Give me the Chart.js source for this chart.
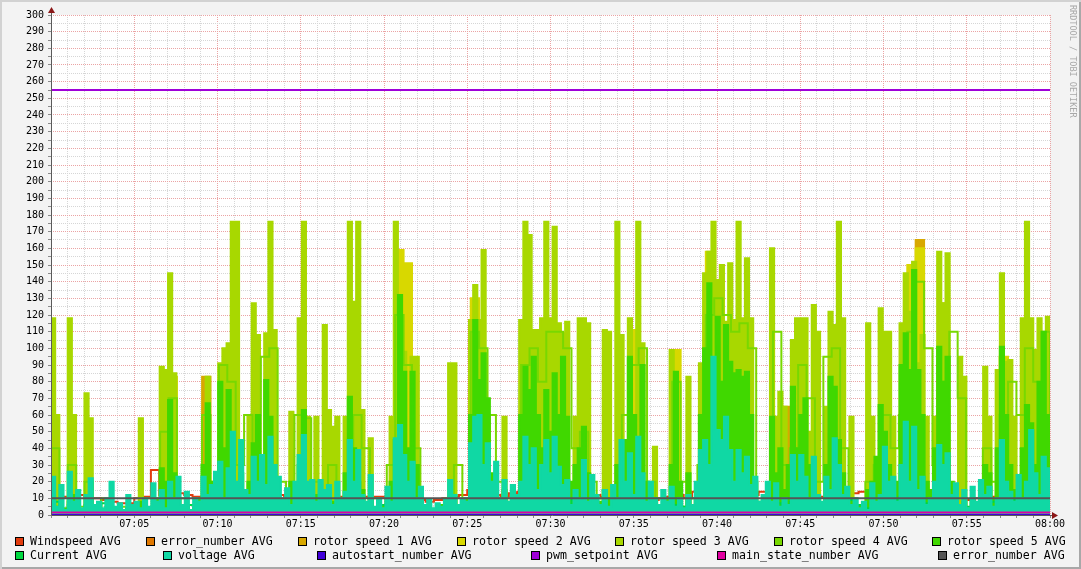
<!DOCTYPE html>
<html>
<head>
<meta charset="utf-8">
<script src="https://cdn.jsdelivr.net/npm/chart.js@4.4.1/dist/chart.umd.min.js"></script>
<style>
  html, body { margin: 0; padding: 0; background: #f3f3f3; }
  #wrap { position: relative; width: 1081px; height: 569px; overflow: hidden; background: #f3f3f3;
          box-shadow: inset 2px 2px 0 #d2d2d2, inset -2px -2px 0 #a8a8a8; }
  #c { position: absolute; left: 0; top: 0; }
  .lg { position: absolute; font: 11.6px 'DejaVu Sans Mono', monospace; color: #000; white-space: pre; line-height: 12px; }
  .bx { position: absolute; width: 7px; height: 7px; border: 1px solid #000; }
  #credit { position: absolute; left: 1068px; top: 5px; writing-mode: vertical-rl; font: 8.5px 'DejaVu Sans Mono', monospace; color: #a8a8a8; }
</style>
</head>
<body>
<div id="wrap">
  <canvas id="c" width="1081" height="569"></canvas>
  <div id="credit">RRDTOOL / TOBI OETIKER</div>
</div>
<script>
// waktu: 07:00 - 08:00, sumbu x dalam detik sejak 07:00
const timeLabels = ['07:05', '07:10', '07:15', '07:20', '07:25', '07:30', '07:35', '07:40', '07:45', '07:50', '07:55', '08:00'];

// data (resolusi ~15 detik)
const rotorSpeed3 = [
  118, 60, 0, 0, 118, 60, 0, 0, 73, 58, 0, 0, 0, 0, 0, 0, 0, 0, 0, 0,
  0, 58, 0, 0, 0, 0, 89, 87, 145, 85, 0, 0, 0, 0, 0, 0, 0, 83, 0, 0,
  91, 100, 103, 176, 176, 0, 0, 59, 127, 108, 0, 109, 176, 111, 0, 0, 0, 62, 0, 118,
  176, 59, 0, 59, 0, 114, 63, 53, 59, 0, 59, 176, 128, 176, 63, 0, 46, 0, 0, 0,
  0, 59, 176, 111, 98, 0, 95, 95, 0, 0, 0, 0, 0, 0, 0, 91, 91, 0, 0, 0,
  117, 138, 117, 159, 59, 0, 0, 0, 59, 0, 0, 0, 117, 176, 168, 111, 111, 118, 176, 118,
  173, 115, 109, 116, 0, 59, 118, 118, 115, 0, 0, 0, 111, 110, 0, 176, 108, 0, 118, 0,
  176, 103, 0, 0, 41, 0, 0, 0, 99, 81, 0, 0, 83, 0, 0, 91, 145, 158, 176, 141,
  150, 116, 151, 117, 176, 118, 154, 118, 0, 0, 0, 0, 160, 59, 74, 65, 0, 105, 118, 118,
  118, 50, 126, 110, 0, 65, 122, 114, 176, 118, 0, 59, 0, 0, 0, 115, 59, 0, 124, 110,
  110, 59, 0, 115, 145, 122, 152, 91, 108, 59, 0, 59, 158, 127, 157, 0, 0, 95, 83, 0,
  0, 0, 0, 89, 59, 0, 87, 145, 92, 93, 59, 0, 118, 176, 118, 99, 118, 85, 119, 60
];
const rotorSpeed5 = [
  10, 5, 0, 4, 8, 12, 3, 0, 6, 2, 0, 3, 0, 5, 2, 0, 3, 0, 4, 0,
  2, 8, 3, 0, 5, 10, 28, 20, 69, 25, 10, 3, 6, 0, 4, 10, 30, 67, 20, 8,
  80, 40, 75, 30, 12, 25, 10, 20, 43, 60, 30, 81, 59, 20, 8, 3, 10, 20, 5, 30,
  63, 15, 8, 12, 4, 10, 5, 8, 3, 10, 25, 71, 40, 20, 15, 5, 10, 3, 0, 5,
  10, 20, 45, 132, 86, 40, 86, 30, 10, 5, 2, 0, 3, 6, 2, 8, 12, 5, 3, 10,
  60, 117, 81, 97, 70, 25, 10, 5, 15, 8, 3, 10, 60, 89, 75, 95, 60, 40, 75, 50,
  85, 60, 95, 59, 20, 30, 40, 53, 25, 5, 3, 8, 15, 10, 5, 30, 20, 45, 95, 60,
  40, 90, 20, 8, 10, 3, 5, 10, 30, 86, 20, 5, 25, 5, 10, 60, 100, 139, 90, 119,
  80, 114, 92, 85, 87, 83, 86, 60, 20, 8, 5, 10, 59, 25, 40, 15, 30, 77, 40, 60,
  70, 30, 20, 10, 5, 30, 83, 77, 45, 25, 5, 10, 3, 5, 0, 15, 20, 35, 66, 50,
  30, 10, 20, 90, 109, 87, 147, 87, 60, 20, 15, 40, 101, 80, 95, 20, 10, 5, 8, 3,
  10, 5, 20, 30, 25, 10, 40, 101, 60, 30, 15, 10, 40, 66, 55, 30, 80, 110, 60, 30
];
const voltage = [
  23, 5, 18, 3, 26, 8, 15, 4, 12, 22, 6, 8, 4, 10, 20, 5, 7, 3, 12, 6,
  8, 4, 10, 5, 19, 8, 15, 4, 20, 10, 23, 6, 14, 3, 10, 8, 23, 12, 18, 26,
  32, 10, 28, 50, 20, 45, 15, 12, 35, 20, 36, 18, 47, 30, 23, 10, 16, 6, 20, 36,
  48, 20, 21, 8, 21, 15, 18, 6, 20, 10, 14, 45, 20, 39, 12, 8, 24, 5, 10, 4,
  17, 8, 46, 54, 36, 20, 32, 10, 17, 6, 9, 4, 7, 5, 9, 21, 12, 6, 10, 8,
  43, 59, 60, 30, 43, 20, 32, 10, 21, 8, 18, 12, 20, 47, 30, 40, 15, 30, 45, 25,
  47, 29, 18, 21, 6, 15, 10, 33, 8, 24, 12, 6, 15, 5, 18, 10, 45, 20, 37, 12,
  47, 25, 8, 20, 10, 6, 15, 8, 17, 5, 10, 4, 12, 6, 20, 39, 45, 30, 95, 51,
  45, 59, 39, 20, 39, 25, 35, 18, 23, 8, 12, 20, 8, 19, 5, 10, 6, 36, 20, 36,
  23, 10, 35, 12, 8, 23, 15, 46, 30, 12, 17, 6, 10, 4, 8, 3, 19, 8, 12, 41,
  20, 23, 8, 30, 56, 20, 53, 15, 23, 6, 10, 20, 42, 30, 37, 12, 19, 6, 15, 4,
  17, 8, 21, 12, 17, 5, 10, 45, 20, 14, 8, 24, 10, 20, 51, 25, 12, 35, 28, 27
];

// resolusi ~30 detik
const windspeed = [
  11, 11, 11, 12, 11, 10, 9, 8, 7, 7, 10, 11, 27, 12, 11, 13, 12, 11, 11, 12,
  12, 11, 12, 13, 12, 13, 12, 12, 11, 12, 11, 11, 11, 11, 11, 11, 11, 11, 11, 11,
  11, 14, 12, 10, 9, 8, 9, 10, 11, 12, 15, 17, 14, 12, 11, 13, 14, 12, 11, 13,
  15, 14, 13, 14, 13, 12, 11, 11, 12, 11, 11, 10, 9, 10, 11, 12, 10, 14, 18, 16,
  14, 15, 14, 13, 12, 14, 13, 12, 11, 11, 12, 11, 11, 12, 13, 12, 13, 14, 15, 17,
  18, 17, 15, 13, 12, 13, 14, 12, 11, 10, 9, 10, 11, 11, 12, 13, 14, 15, 15, 14, 13
];
const current = [
  8, 3, 6, 2, 5, 4, 7, 3, 2, 4, 3, 2, 5, 3, 8, 4, 6, 3, 9, 5,
  10, 6, 12, 4, 8, 5, 3, 6, 2, 4, 7, 5, 9, 6, 4, 3, 5, 7, 4, 6,
  8, 10, 7, 5, 3, 2, 4, 3, 5, 4, 9, 11, 8, 10, 6, 7, 9, 5, 8, 6,
  7, 5, 9, 4, 6, 3, 5, 8, 4, 6, 5, 7, 4, 3, 6, 5, 10, 12, 9, 8,
  10, 8, 6, 9, 5, 4, 7, 6, 8, 5, 6, 4, 7, 5, 8, 9, 6, 4, 7, 5,
  9, 11, 8, 10, 7, 5, 4, 6, 3, 5, 4, 6, 8, 7, 9, 6, 5, 7, 6, 4
];
const rotorSpeed4 = [
  40, 0, 30, 5, 20, 0, 10, 0, 5, 0, 0, 10, 0, 50, 70, 10, 0, 5, 60, 20,
  90, 80, 30, 60, 20, 95, 100, 20, 0, 60, 58, 20, 10, 30, 5, 10, 60, 40, 10, 0,
  30, 120, 90, 40, 0, 0, 0, 10, 30, 0, 110, 100, 60, 20, 10, 0, 90, 100, 80, 110,
  110, 100, 40, 50, 20, 10, 5, 0, 60, 90, 100, 20, 10, 0, 80, 20, 5, 30, 120, 130,
  120, 110, 115, 100, 0, 10, 110, 30, 40, 90, 70, 20, 95, 100, 40, 10, 0, 20, 30, 60,
  40, 60, 110, 140, 100, 30, 80, 110, 70, 0, 0, 40, 20, 60, 80, 60, 100, 80, 110, 40
];
const rotorSpeed2 = [
  0, 0, 0, 0, 0, 0, 0, 0, 0, 0, 0, 0, 0, 0, 83, 0, 0, 0, 0, 0,
  0, 0, 0, 0, 0, 0, 0, 0, 0, 0, 0, 0, 0, 0, 0, 0, 0, 0, 0, 0,
  0, 159, 151, 0, 0, 0, 0, 0, 0, 0, 130, 0, 0, 0, 0, 0, 0, 0, 0, 0,
  0, 0, 0, 0, 0, 0, 0, 0, 0, 111, 0, 0, 0, 0, 99, 0, 0, 0, 158, 0,
  0, 0, 86, 0, 0, 0, 0, 0, 0, 0, 0, 0, 0, 0, 0, 0, 0, 0, 0, 0,
  0, 0, 150, 160, 0, 0, 127, 0, 0, 0, 0, 0, 0, 95, 0, 0, 0, 89, 0, 83
];
const rotorSpeed1 = [
  0, 0, 0, 0, 0, 0, 0, 0, 0, 0, 0, 0, 0, 0, 0, 0, 0, 0, 83, 0,
  0, 0, 0, 0, 0, 0, 0, 0, 0, 0, 0, 0, 0, 0, 0, 49, 0, 0, 0, 0,
  0, 0, 0, 0, 0, 0, 0, 0, 0, 0, 0, 0, 0, 0, 0, 0, 0, 0, 0, 0,
  0, 0, 0, 0, 0, 0, 0, 0, 0, 0, 0, 0, 0, 0, 0, 0, 0, 0, 0, 0,
  0, 0, 0, 0, 0, 0, 0, 65, 0, 0, 0, 0, 0, 0, 0, 0, 0, 0, 0, 0,
  0, 0, 0, 165, 0, 0, 0, 0, 0, 0, 0, 0, 0, 0, 0, 0, 0, 0, 0, 82
];

// nilai konstan (per 5 menit)
const errorNumberA = [0, 0, 0, 0, 0, 0, 0, 0, 0, 0, 0, 0, 0];
const autostartNumber = [0, 0, 0, 0, 0, 0, 0, 0, 0, 0, 0, 0, 0];
const pwmSetpoint = [255, 255, 255, 255, 255, 255, 255, 255, 255, 255, 255, 255, 255];
const mainStateNumber = [1.5, 1.5, 1.5, 1.5, 1.5, 1.5, 1.5, 1.5, 1.5, 1.5, 1.5, 1.5, 1.5];
const errorNumberB = [10, 10, 10, 10, 10, 10, 10, 10, 10, 10, 10, 10, 10];

// fill: seri yang berosilasi cepat tampak sebagai blok padat
const series = [
  { label: 'Windspeed AVG',         data: windspeed,       color: '#e23c0e', fill: false },
  { label: 'error_number AVG',      data: errorNumberA,    color: '#e07800', fill: false },
  { label: 'rotor speed 1 AVG',     data: rotorSpeed1,     color: '#d8a800', fill: true },
  { label: 'rotor speed 2 AVG',     data: rotorSpeed2,     color: '#d8d800', fill: true },
  { label: 'rotor speed 3 AVG',     data: rotorSpeed3,     color: '#a8d800', fill: true },
  { label: 'rotor speed 4 AVG',     data: rotorSpeed4,     color: '#78d800', fill: false },
  { label: 'rotor speed 5 AVG',     data: rotorSpeed5,     color: '#40d800', fill: true },
  { label: 'Current AVG',           data: current,         color: '#00d840', fill: false },
  { label: 'voltage AVG',           data: voltage,         color: '#10d8a4', fill: true },
  { label: 'autostart_number AVG',  data: autostartNumber, color: '#4000d8', fill: false },
  { label: 'pwm_setpoint AVG',      data: pwmSetpoint,     color: '#a000d8', fill: false },
  { label: 'main_state_number AVG', data: mainStateNumber, color: '#e000a0', fill: false },
  { label: 'error_number AVG',      data: errorNumberB,    color: '#555555', fill: false }
];

const T_END = 3600;
function toPoints(values) {
  const step = T_END / (values.length - 1);
  return values.map((v, i) => ({ x: i * step, y: v }));
}

// posisi legenda (kolom teks x, baris)
const legendPos = [
  [30, 0], [161, 0], [313, 0], [472, 0], [630, 0], [789, 0], [947, 0],
  [30, 1], [178, 1], [332, 1], [546, 1], [732, 1], [953, 1]
];
const wrap = document.getElementById('wrap');
series.forEach((s, i) => {
  const [tx, row] = legendPos[i];
  const box = document.createElement('div');
  box.className = 'bx';
  box.style.left = (tx - 15) + 'px';
  box.style.top = (537 + row * 14) + 'px';
  box.style.background = s.color;
  wrap.appendChild(box);
  const t = document.createElement('div');
  t.className = 'lg';
  t.style.left = tx + 'px';
  t.style.top = (535 + row * 14) + 'px';
  t.textContent = s.label;
  wrap.appendChild(t);
});

const MAJOR = '#eba4a4';
const MINOR = '#d6d6d6';

const frame = {
  id: 'frame',
  beforeDraw(chart) {
    const { ctx, chartArea: a } = chart;
    ctx.save();
    ctx.fillStyle = '#ffffff';
    ctx.fillRect(a.left, a.top, a.right - a.left, a.bottom - a.top);
    ctx.restore();
  },
  afterDraw(chart) {
    const { ctx, chartArea: a } = chart;
    const x0 = Math.round(a.left) + 0.5, y0 = Math.round(a.bottom) + 0.5;
    ctx.save();
    ctx.strokeStyle = '#5a5a5a';
    ctx.lineWidth = 1;
    ctx.beginPath();
    ctx.moveTo(x0, y0); ctx.lineTo(x0, a.top - 4);
    ctx.moveTo(x0, y0); ctx.lineTo(a.right + 4, y0);
    ctx.stroke();
    ctx.fillStyle = '#8c1818';
    ctx.beginPath();
    ctx.moveTo(x0 - 3.5, a.top - 2); ctx.lineTo(x0 + 3.5, a.top - 2); ctx.lineTo(x0, a.top - 8);
    ctx.closePath(); ctx.fill();
    ctx.beginPath();
    ctx.moveTo(a.right + 2, y0 - 3.5); ctx.lineTo(a.right + 2, y0 + 3.5); ctx.lineTo(a.right + 8, y0);
    ctx.closePath(); ctx.fill();
    ctx.restore();
  }
};

const ctx = document.getElementById('c').getContext('2d');
const chart = new Chart(ctx, {
  type: 'line',
  data: {
    datasets: series.map((s, i) => ({
      label: s.label,
      data: toPoints(s.data),
      borderColor: s.color,
      backgroundColor: s.color,
      borderWidth: 2,
      pointRadius: 0,
      stepped: true,
      fill: s.fill ? 'origin' : false,
      order: series.length - i
    }))
  },
  options: {
    responsive: false,
    animation: false,
    events: [],
    layout: { padding: { left: 0, top: 15, right: 31, bottom: 0 } },
    plugins: { legend: { display: false }, tooltip: { enabled: false } },
    scales: {
      x: {
        type: 'linear',
        min: 0,
        max: T_END,
        afterFit(scale) { scale.height = 54; },
        border: { display: false, dash: [1, 1] },
        grid: {
          color: (c) => (c.tick && c.tick.value % 300 === 0 ? MAJOR : MINOR),
          tickColor: '#8a8a8a',
          tickLength: 3,
          lineWidth: 1
        },
        ticks: {
          stepSize: 60,
          autoSkip: false,
          maxRotation: 0,
          minRotation: 0,
          padding: 0,
          color: '#000',
          font: { family: "'DejaVu Sans Mono', monospace", size: 10 },
          callback: (v) => (v > 0 && v % 300 === 0 ? timeLabels[v / 300 - 1] : '')
        }
      },
      y: {
        min: 0,
        max: 300,
        afterFit(scale) { scale.width = 51; },
        border: { display: false, dash: [1, 1] },
        grid: {
          color: (c) => (c.tick && c.tick.value % 10 === 0 ? MAJOR : MINOR),
          tickColor: '#8a8a8a',
          tickLength: 3,
          lineWidth: 1
        },
        ticks: {
          stepSize: 5,
          autoSkip: false,
          padding: 4,
          color: '#000',
          font: { family: "'DejaVu Sans Mono', monospace", size: 10 },
          callback: (v) => (v % 10 === 0 ? String(v) : '')
        }
      }
    }
  },
  plugins: [frame]
});
</script>
</body>
</html>
